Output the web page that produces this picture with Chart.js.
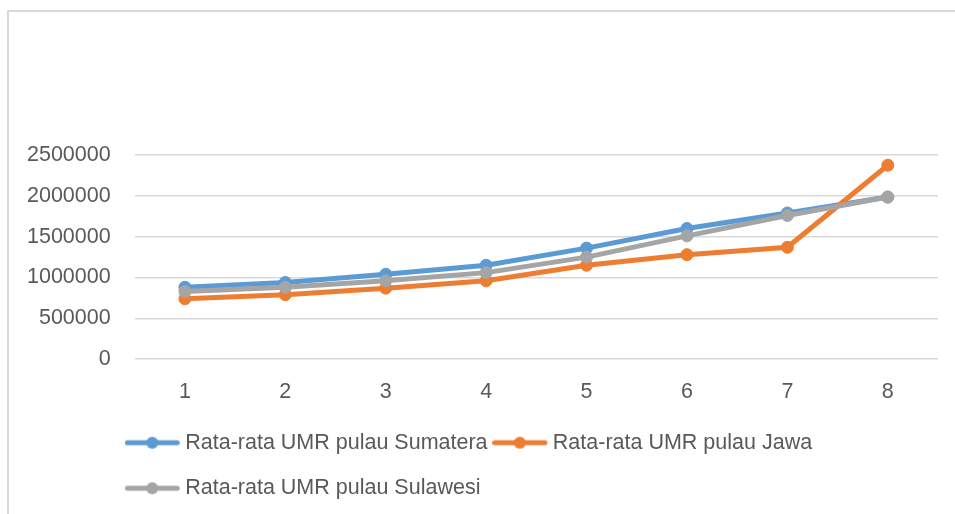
<!DOCTYPE html>
<html>
<head>
<meta charset="utf-8">
<script src="https://cdn.jsdelivr.net/npm/chart.js@4/dist/chart.umd.min.js"></script>
<style>
  html, body { margin: 0; padding: 0; background: #fff; overflow: hidden; }
  #frame {
    position: absolute; left: 7px; top: 10px; width: 1100px; height: 700px;
    border-top: 2px solid #d9d9d9; border-left: 2px solid #d9d9d9;
  }
  #myChart { position: absolute; left: 0; top: 0; }
</style>
</head>
<body>
<div id="frame"></div>
<canvas id="myChart" width="955" height="514"></canvas>
<script>
var labels = ["1", "2", "3", "4", "5", "6", "7", "8"];
var sumatera = [880000, 940000, 1040000, 1150000, 1360000, 1600000, 1790000, 1985000];
var jawa = [740000, 790000, 870000, 960000, 1150000, 1280000, 1370000, 2375000];
var sulawesi = [830000, 880000, 960000, 1060000, 1250000, 1510000, 1760000, 1985000];
var yTicks = [0, 500000, 1000000, 1500000, 2000000, 2500000];

var textColor = "#595959";
var gridColor = "#d9d9d9";
var fontFamily = "'Liberation Sans', Arial, sans-serif";
var fontSize = 21.5;

// small line-with-marker icon for the legend
function legendIcon(color) {
  const c = document.createElement("canvas");
  c.width = 69;
  c.height = 14;
  const g = c.getContext("2d");
  g.strokeStyle = color;
  g.lineWidth = 5;
  g.lineCap = "round";
  g.beginPath();
  g.moveTo(2.5, 7);
  g.lineTo(52.5, 7);
  g.stroke();
  g.fillStyle = color;
  g.beginPath();
  g.arc(27.5, 7, 6, 0, Math.PI * 2);
  g.fill();
  return c;
}

function series(label, data, color, order) {
  return {
    label: label,
    data: data,
    borderColor: color,
    backgroundColor: color,
    pointBackgroundColor: color,
    pointBorderColor: color,
    borderWidth: 5,
    pointRadius: 6,
    pointBorderWidth: 1,
    fill: false,
    lineTension: 0,
    order: order,
    icon: legendIcon(color)
  };
}

// move the legend block under the plot, rows stay left aligned
const legendShift = {
  id: "legendShift",
  afterLayout(chart) {
    chart.legend.left = 120;
    chart.legend.top = 408;
  }
};

const myChart = new Chart("myChart", {
  type: "line",
  data: {
    labels: labels,
    datasets: [
      series("Rata-rata UMR pulau Sumatera", sumatera, "#5b9bd5", 2),
      series("Rata-rata UMR pulau Jawa", jawa, "#ed7d31", 1),
      series("Rata-rata UMR pulau Sulawesi", sulawesi, "#a5a5a5", 0)
    ]
  },
  options: {
    responsive: false,
    animation: false,
    devicePixelRatio: 1,
    layout: { padding: { top: 155, left: 3, right: 17, bottom: -12 } },
    plugins: {
      tooltip: { enabled: false },
      legend: {
        position: "bottom",
        align: "start",
        labels: {
          usePointStyle: true,
          pointStyleWidth: 30.5,
          padding: 24,
          color: textColor,
          font: { family: fontFamily, size: fontSize },
          sort: (a, b) => a.datasetIndex - b.datasetIndex,
          generateLabels(chart) {
            const items = Chart.defaults.plugins.legend.labels.generateLabels(chart);
            items.forEach(it => {
              it.pointStyle = chart.data.datasets[it.datasetIndex].icon;
            });
            return items;
          }
        }
      }
    },
    scales: {
      x: {
        offset: true,
        grid: { display: false, drawTicks: false },
        border: { display: false },
        ticks: { color: textColor, padding: 20, font: { family: fontFamily, size: fontSize } }
      },
      y: {
        min: 0,
        max: 2500000,
        afterBuildTicks(scale) {
          scale.ticks = yTicks.map(v => ({ value: v }));
        },
        grid: { color: gridColor, lineWidth: 1.5, drawTicks: false },
        border: { display: false },
        ticks: {
          color: textColor,
          padding: 24,
          font: { family: fontFamily, size: fontSize },
          callback: v => String(v)
        }
      }
    }
  },
  plugins: [legendShift]
});
</script>
</body>
</html>
